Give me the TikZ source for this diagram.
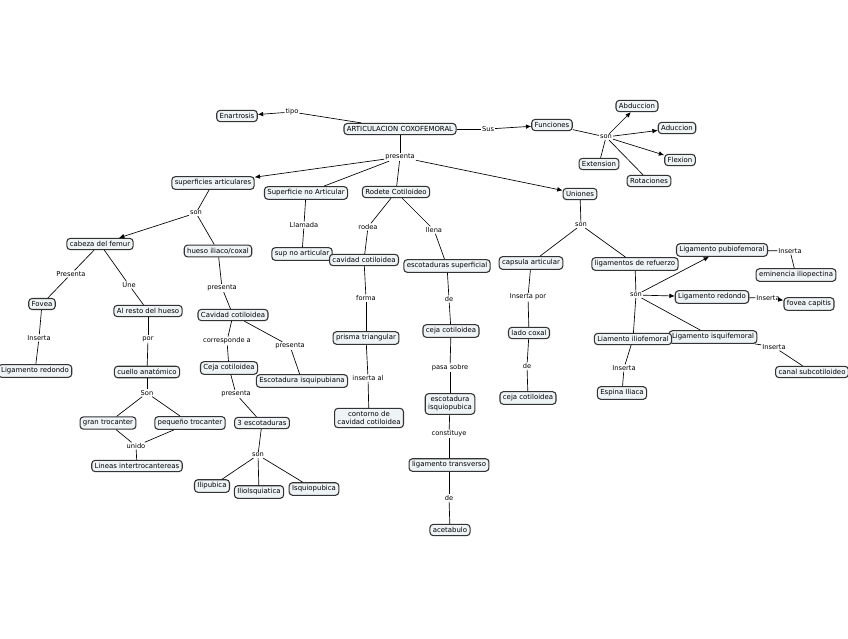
\documentclass[tikz,border=0pt]{standalone}
\usepackage{fontspec}
\setmainfont{DejaVu Sans}
\usetikzlibrary{arrows.meta}
\definecolor{conceptfill}{HTML}{EEF3F5}
\tikzset{
	concept/.style={
		rectangle
		,rounded corners=2.5pt
		,draw=black!80
		,thick
		,fill=conceptfill
		,font=\fontsize{5.2}{6}\selectfont
		,align=center
		,inner sep=2.2pt
	}
	,link/.style={
		fill=white
		,inner sep=0.6pt
		,font=\fontsize{5}{6}\selectfont
	}
	,to/.style={-{Latex[length=4pt,width=3.5pt]}}
}
\begin{document}
\begin{tikzpicture}[x=0.75pt,y=-0.75pt,line width=0.5pt]
\useasboundingbox (0,0) rectangle (848,638);

% conceptos
\node[concept](art) at(400,129) {ARTICULACION COXOFEMORAL};
\node[concept](enar) at(237,116) {Enartrosis};
\node[concept](func) at(552,125) {Funciones};
\node[concept](abdu) at(637,106) {Abduccion};
\node[concept](addu) at(677,128) {Aduccion};
\node[concept](flex) at(680,160) {Flexion};
\node[concept](exte) at(599,164) {Extension};
\node[concept](rota) at(649,181) {Rotaciones};
\node[concept](supa) at(213,183) {superficies articulares};
\node[concept](supn) at(306,193) {Superficie no Articular};
\node[concept](rode) at(396,192) {Rodete Cotiloideo};
\node[concept](unio) at(580,194) {Uniones};
\node[concept](cabe) at(100,244) {cabeza del femur};
\node[concept](huil) at(218,251) {hueso iliaco/coxal};
\node[concept](fove) at(42,304) {Fovea};
\node[concept](ares) at(148,311) {Al resto del hueso};
\node[concept](lire) at(35,371) {Ligamento redondo};
\node[concept](cuel) at(147,372) {cuello anatómico};
\node[concept](gtro) at(108,423) {gran trocanter};
\node[concept](ptro) at(190,423) {pequeño trocanter};
\node[concept](lint) at(137,466) {Lineas intertrocantereas};
\node[concept](cavc) at(233,315) {Cavidad cotiloidea};
\node[concept](cejc) at(229,368) {Ceja cotiloidea};
\node[concept](escq) at(302,381) {Escotadura isquipubiana};
\node[concept](tres) at(262,423) {3 escotaduras};
\node[concept](ilip) at(212,486) {Ilipubica};
\node[concept](ilis) at(259,492) {Iliolsquiatica};
\node[concept](isqp) at(314,489) {Isquiopubica};
\node[concept](suno) at(302,254) {sup no articular};
\node[concept](cavd) at(364,260) {cavidad cotiloidea};
\node[concept](pris) at(366,338) {prisma triangular};
\node[concept](cont) at(369,418) {contorno de\\cavidad cotiloidea};
\node[concept](escs) at(447,266) {escotaduras superficial};
\node[concept](cejb) at(451,331) {ceja cotiloidea};
\node[concept](esci) at(450,404) {escotadura\\isquiopubica};
\node[concept](litr) at(449,465) {ligamento transverso};
\node[concept](acet) at(450,530) {acetabulo};
\node[concept](caps) at(531,263) {capsula articular};
\node[concept](lref) at(635,264) {ligamentos de refuerzo};
\node[concept](laco) at(529,333) {lado coxal};
\node[concept](cejd) at(528,398) {ceja cotiloidea};
\node[concept](lpub) at(722,250) {Ligamento pubiofemoral};
\node[concept](lred) at(712,297) {Ligamento redondo};
\node[concept](lisq) at(713,337) {Ligamento isquifemoral};
\node[concept](lili) at(633,339) {Liamento iliofemoral};
\node[concept](emin) at(796,275) {eminencia iliopectina};
\node[concept](fcap) at(809,304) {fovea capitis};
\node[concept](csub) at(812,372) {canal subcotiloideo};
\node[concept](espi) at(622,393) {Espina Iliaca};

% palabras de enlace
\foreach \n/\x/\y/\t in {
	ltip/292/112/tipo,lsus/488/129/Sus,lson/606/137/son%
	,lpre/400,157/presenta%
}{}
\node[link](ltip) at(292,112) {tipo};
\node[link](lsus) at(488,129) {Sus};
\node[link](lsoa) at(606,137) {son};
\node[link](lpre) at(400,157) {presenta};
\node[link](lsob) at(196,213) {son};
\node[link](lprs) at(71,274) {Presenta};
\node[link](lune) at(129,285) {Une};
\node[link](lina) at(39,338) {Inserta};
\node[link](lpor) at(148,339) {por};
\node[link](lsoc) at(147,393) {Son};
\node[link](luni) at(136,446) {unido};
\node[link](lprb) at(222,288) {presenta};
\node[link](lcor) at(227,341) {corresponde a};
\node[link](lprc) at(290,346) {presenta};
\node[link](lprd) at(236,394) {presenta};
\node[link](lsod) at(258,455) {son};
\node[link](llam) at(304,225) {Llamada};
\node[link](lrod) at(368,227) {rodea};
\node[link](lfor) at(366,298) {forma};
\node[link](linb) at(368,378) {inserta al};
\node[link](llle) at(434,230) {llena};
\node[link](ldea) at(449,299) {de};
\node[link](lpas) at(450,368) {pasa sobre};
\node[link](lcon) at(449,434) {constituye};
\node[link](ldeb) at(449,498) {de};
\node[link](lsoe) at(581,225) {son};
\node[link](linc) at(528,297) {Inserta por};
\node[link](ldec) at(527,366) {de};
\node[link](lsof) at(636,295) {son};
\node[link](lind) at(790,251) {Inserta};
\node[link](line) at(768,298) {Inserta};
\node[link](linf) at(774,347) {Inserta};
\node[link](ling) at(624,368) {Inserta};

% enlaces sin flecha
\foreach \u \v in {
	art/ltip,art/lsus,func/lsoa,lsoa/exte,lsoa/rota,art/lpre%
	,lpre/supn,lpre/rode,supa/lsob,lsob/huil%
	,cabe/lprs,lprs/fove,cabe/lune,lune/ares,fove/lina,lina/lire%
	,ares/lpor,lpor/cuel,cuel/lsoc,lsoc/gtro,lsoc/ptro%
	,gtro/luni,ptro/luni,luni/lint%
	,huil/lprb,lprb/cavc,cavc/lcor,lcor/cejc,cavc/lprc,lprc/escq%
	,cejc/lprd,lprd/tres,tres/lsod,lsod/ilip,lsod/ilis,lsod/isqp%
	,supn/llam,llam/suno,rode/lrod,lrod/cavd,cavd/lfor,lfor/pris%
	,pris/linb,linb/cont,rode/llle,llle/escs,escs/ldea,ldea/cejb%
	,cejb/lpas,lpas/esci,esci/lcon,lcon/litr,litr/ldeb,ldeb/acet%
	,unio/lsoe,lsoe/caps,lsoe/lref,caps/linc,linc/laco,laco/ldec,ldec/cejd%
	,lref/lsof,lsof/lisq,lsof/lili%
	,lpub/lind,lind/emin,lred/line,lisq/linf,linf/csub,lili/ling,ling/espi%
}{
	\draw (\u) -- (\v);
}

% enlaces con flecha
\foreach \u \v in {
	ltip/enar,lsus/func,lsoa/abdu,lsoa/addu,lsoa/flex%
	,lpre/supa,lpre/unio,lsob/cabe%
	,lsof/lpub,lsof/lred,line/fcap%
}{
	\draw[to] (\u) -- (\v);
}

\end{tikzpicture}
\end{document}
